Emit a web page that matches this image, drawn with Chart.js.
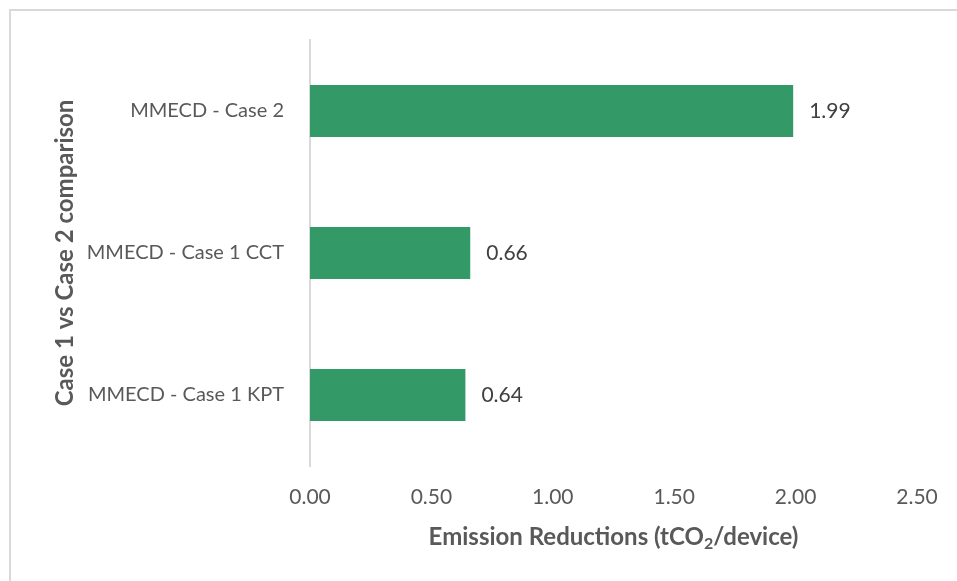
<!DOCTYPE html>
<html><head><meta charset="utf-8">
<script src="https://cdn.jsdelivr.net/npm/chart.js@4"></script>
<style>
html,body{margin:0;padding:0;background:#fff;overflow:hidden}
#frame{position:absolute;left:9px;top:9px;width:960px;height:580px;border-left:2px solid #d9d9d9;border-top:2px solid #d9d9d9;box-sizing:border-box}
#wrap{position:absolute;left:0;top:0;width:957px;height:581px}
</style></head><body>
<div id="frame"></div>
<div id="wrap"><canvas id="c" width="957" height="581"></canvas></div>
<script>
const categories = ['MMECD - Case 2', 'MMECD - Case 1 CCT', 'MMECD - Case 1 KPT'];
const values = [1.99, 0.66, 0.64];
const dataLabels = ['1.99', '0.66', '0.64'];
const xTickValues = [0, 0.5, 1, 1.5, 2, 2.5];
const xTitleParts = ['Emission Reductions (tCO', '2', '/device)'];
const yTitle = 'Case 1 vs Case 2 comparison';

const FONT = 'Lato, "Open Sans", sans-serif';
const GRAY = '#595959';

const labelsPlugin = {
  id: 'barLabels',
  afterDatasetsDraw(chart) {
    const ctx = chart.ctx;
    const meta = chart.getDatasetMeta(0);
    ctx.save();
    ctx.font = '21px ' + FONT;
    ctx.fillStyle = '#404040';
    ctx.textAlign = 'left';
    ctx.textBaseline = 'middle';
    meta.data.forEach((el, i) => {
      ctx.fillText(dataLabels[i], el.x + 16, el.y);
    });
    ctx.restore();
  }
};

const titlesPlugin = {
  id: 'axisTitles',
  afterDraw(chart) {
    const ctx = chart.ctx;
    const a = chart.chartArea;
    ctx.save();
    ctx.fillStyle = GRAY;
    const big = 'bold 24px ' + FONT;
    const small = 'bold 16px ' + FONT;
    ctx.font = big;
    const w1 = ctx.measureText(xTitleParts[0]).width;
    const w3 = ctx.measureText(xTitleParts[2]).width;
    ctx.font = small;
    const w2 = ctx.measureText(xTitleParts[1]).width;
    const total = w1 + w2 + w3;
    let x = (a.left + a.right) / 2 - total / 2;
    const y = 537;
    ctx.textBaseline = 'middle';
    ctx.textAlign = 'left';
    ctx.font = big;
    ctx.fillText(xTitleParts[0], x, y);
    x += w1;
    ctx.font = small;
    ctx.fillText(xTitleParts[1], x, y + 7);
    x += w2;
    ctx.font = big;
    ctx.fillText(xTitleParts[2], x, y);
    ctx.translate(65, (a.top + a.bottom) / 2);
    ctx.rotate(-Math.PI / 2);
    ctx.textAlign = 'center';
    ctx.font = big;
    ctx.fillText(yTitle, 0, 0);
    ctx.restore();
  }
};

new Chart(document.getElementById('c'), {
  type: 'bar',
  data: {
    labels: categories,
    datasets: [{
      data: values,
      backgroundColor: '#339966',
      borderWidth: 0,
      categoryPercentage: 1,
      barPercentage: 0.366
    }]
  },
  options: {
    indexAxis: 'y',
    responsive: false,
    animation: false,
    devicePixelRatio: 1,
    layout: { padding: { top: 40, right: 40, left: 0, bottom: 0 } },
    plugins: { legend: { display: false }, tooltip: { enabled: false } },
    scales: {
      x: {
        min: 0, max: 2.5,
        afterBuildTicks(s) { s.ticks = xTickValues.map(v => ({ value: v })); },
        ticks: {
          callback: v => Number(v).toFixed(2),
          color: GRAY,
          font: { family: FONT, size: 21 },
          padding: 19,
          maxRotation: 0
        },
        grid: { display: false, drawTicks: false },
        border: { display: false },
        afterFit(s) { s.height = 115; }
      },
      y: {
        ticks: {
          color: GRAY,
          font: { family: FONT, size: 20 },
          padding: 26
        },
        grid: { display: false, drawTicks: false },
        border: { display: true, color: '#d9d9d9', width: 2 },
        afterFit(s) { s.width = 310; }
      }
    }
  },
  plugins: [labelsPlugin, titlesPlugin]
});
</script>
</body></html>
